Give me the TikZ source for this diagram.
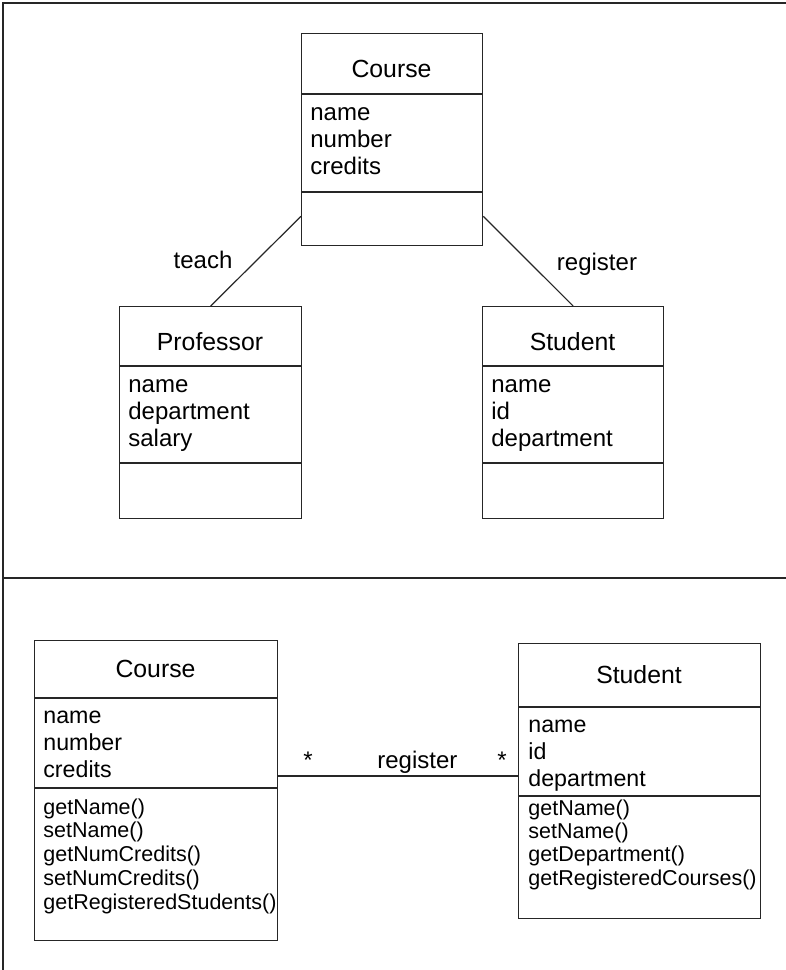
\documentclass[tikz,border=0pt]{standalone}
\usepackage{fontspec}
\setmainfont{Liberation Sans}
\usetikzlibrary{calc}

\tikzset{
  x=0.5pt, y=-0.5pt,
  frameline/.style={line width=0.9pt, draw=black!85},
  classbox/.style={draw=black!85, line width=0.65pt, anchor=north west,
                   inner sep=0pt, rectangle},
  divider/.style={draw=black!85, line width=0.65pt},
  assoc/.style={draw=black!85, line width=0.6pt},
  title/.style={font=\fontsize{12.4}{14}\selectfont, inner sep=0pt, anchor=base},
  attr/.style={font=\fontsize{12}{14}\selectfont, inner sep=0pt, anchor=base west},
  battr/.style={font=\fontsize{11.6}{14}\selectfont, inner sep=0pt, anchor=base west},
  meth/.style={font=\fontsize{10.75}{12}\selectfont, inner sep=0pt, anchor=base west},
  lbl/.style={font=\fontsize{12}{14}\selectfont, inner sep=0pt, anchor=base},
}

\begin{document}
\begin{tikzpicture}
\useasboundingbox (0,0) rectangle (786,970);

% outer frame and the rule between the two diagrams
\draw[frameline] (786,3) -- (3,3) -- (3,970);
\draw[frameline] (3,578) -- (786,578);

% ---------------- upper diagram ----------------
\node[classbox, minimum width=90.5pt, minimum height=106pt] (c1) at (301,33) {};
\draw[divider] (301,94) -- (482,94);
\draw[divider] (301,192) -- (482,192);
\node[title] (c1t) at (391.5,77) {Course};
\foreach \t [count=\i] in {name,number,credits}
  \node[attr] (c1a\i) at (310,{120+27*(\i-1)}) {\t};

\node[classbox, minimum width=91pt, minimum height=106pt] (p1) at (119,306) {};
\draw[divider] (119,366) -- (301,366);
\draw[divider] (119,463) -- (301,463);
\node[title] (p1t) at (210,350) {Professor};
\foreach \t [count=\i] in {name,department,salary}
  \node[attr] (p1a\i) at (128,{392+27*(\i-1)}) {\t};

\node[classbox, minimum width=90.5pt, minimum height=106pt] (s1) at (482,306) {};
\draw[divider] (482,366) -- (663,366);
\draw[divider] (482,463) -- (663,463);
\node[title] (s1t) at (572.5,350) {Student};
\foreach \t [count=\i] in {name,id,department}
  \node[attr] (s1a\i) at (491,{392+27*(\i-1)}) {\t};

% associations
\coordinate (c1l) at ($(c1.south west)+(0,-30)$);
\coordinate (c1r) at ($(c1.south east)+(0,-30)$);
\draw[assoc] (c1l) -- (p1.north);
\draw[assoc] (c1r) -- (s1.north);
\node[lbl] (teach) at (203,268) {teach};
\node[lbl] (reg1) at (597,270) {register};

% ---------------- lower diagram ----------------
\node[classbox, minimum width=121.5pt, minimum height=150pt] (c2) at (34,640) {};
\draw[divider] (34,698) -- (277,698);
\draw[divider] (34,788) -- (277,788);
\node[title] (c2t) at (155.5,677) {Course};
\foreach \t [count=\i] in {name,number,credits}
  \node[battr] (c2a\i) at (43,{723+27*(\i-1)}) {\t};
\foreach \t [count=\i] in {getName(),setName(),getNumCredits(),setNumCredits(),getRegisteredStudents()}
  \node[meth] (c2m\i) at (43,{814+23.8*(\i-1)}) {\t};

\node[classbox, minimum width=121pt, minimum height=137.5pt] (s2) at (518,643) {};
\draw[divider] (518,707) -- (760,707);
\draw[divider] (518,796) -- (760,796);
\node[title] (s2t) at (639,683) {Student};
\foreach \t [count=\i] in {name,id,department}
  \node[battr] (s2a\i) at (528,{732+27*(\i-1)}) {\t};
\foreach \t [count=\i] in {getName(),setName(),getDepartment(),getRegisteredCourses()}
  \node[meth] (s2m\i) at (528,{815+23.4*(\i-1)}) {\t};

\coordinate (c2r) at ($(c2.north east)+(0,136)$);
\draw[assoc] (c2r) -- (c2r -| s2.west);
\node[lbl] (m1) at (308,768) {*};
\node[lbl] (m2) at (502,768) {*};
\node[lbl, anchor=base west] (reg2) at (377,768) {register};
\end{tikzpicture}
\end{document}
